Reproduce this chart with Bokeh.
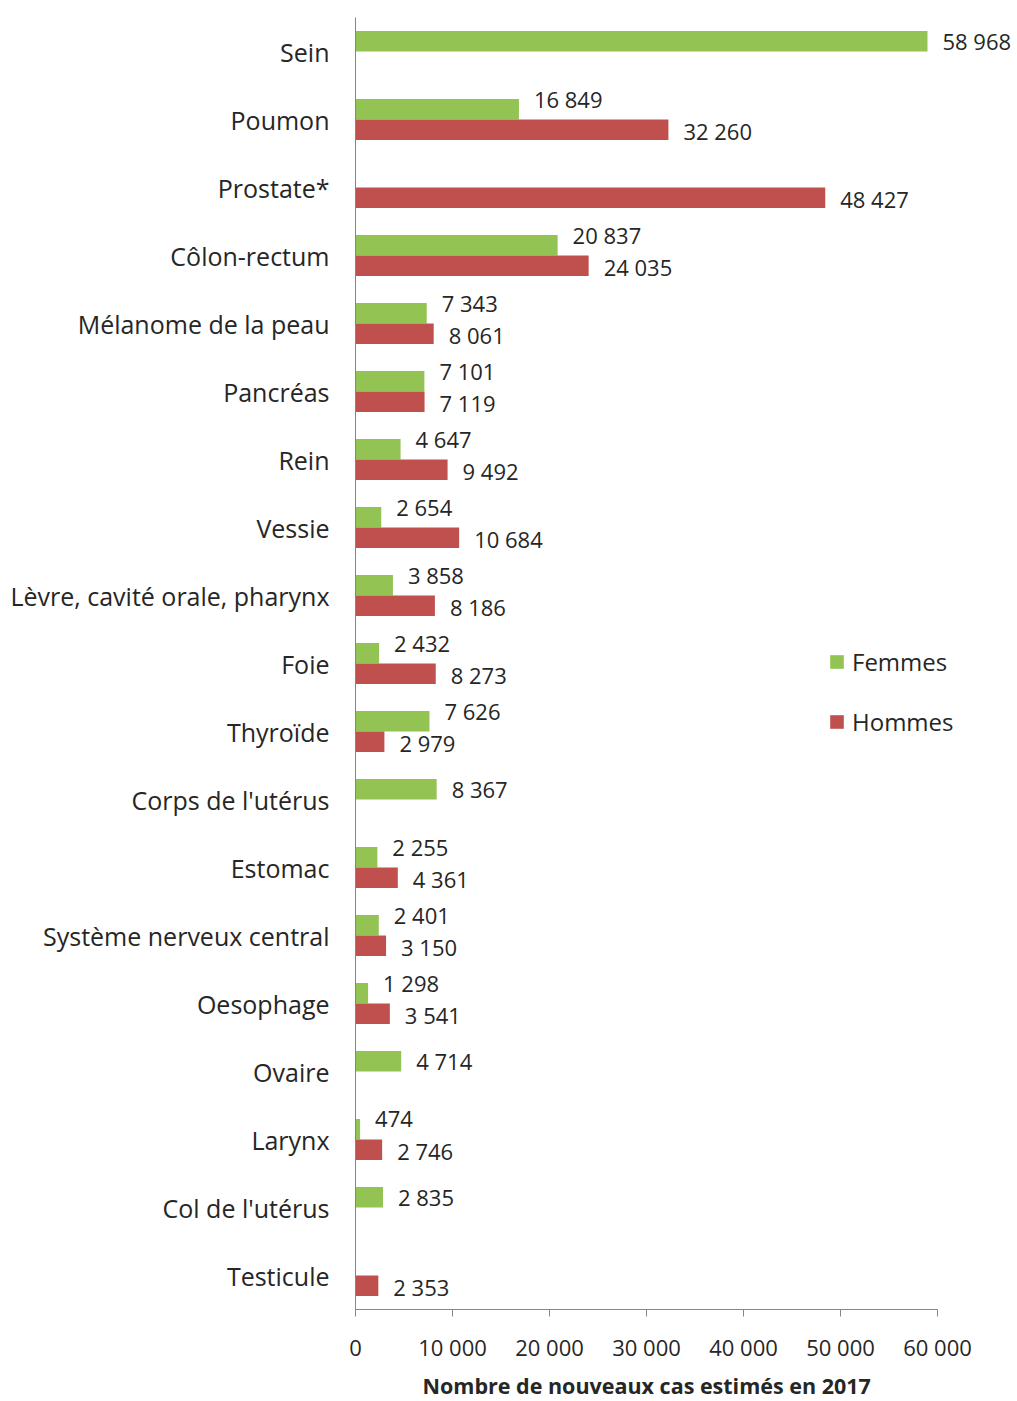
from bokeh.plotting import figure
from bokeh.models import (ColumnDataSource, Range1d, FixedTicker, LabelSet,
                          Legend, LegendItem, Title)
from bokeh.core.properties import value
from bokeh.embed import file_html
from bokeh.resources import INLINE

categories = ["Sein", "Poumon", "Prostate*", "Côlon-rectum", "Mélanome de la peau",
              "Pancréas", "Rein", "Vessie", "Lèvre, cavité orale, pharynx", "Foie",
              "Thyroïde", "Corps de l'utérus", "Estomac", "Système nerveux central",
              "Oesophage", "Ovaire", "Larynx", "Col de l'utérus", "Testicule"]
femmes = [58968, 16849, None, 20837, 7343, 7101, 4647, 2654, 3858, 2432,
          7626, 8367, 2255, 2401, 1298, 4714, 474, 2835, None]
hommes = [None, 32260, 48427, 24035, 8061, 7119, 9492, 10684, 8186, 8273,
          2979, None, 4361, 3150, 3541, None, 2746, None, 2353]
x_ticks = [0, 10000, 20000, 30000, 40000, 50000, 60000]
x_title = "Nombre de nouveaux cas estimés en 2017"

FONT = "Open Sans"
TXT = "#262626"
GREEN = "#92C353"
RED = "#C0504D"
AXIS_GREY = "#868686"


def fmt(v):
    return f"{v:,}".replace(",", " ")


n = len(categories)
bar_h = 0.3

fy, fx, fl, fyo = [], [], [], []
hy, hx, hl = [], [], []
for i, (f, h) in enumerate(zip(femmes, hommes)):
    if f is not None:
        fy.append(i - bar_h / 2)
        fx.append(f)
        fl.append(fmt(f))
        fyo.append(10 if h is not None else 0)
    if h is not None:
        hy.append(i + bar_h / 2)
        hx.append(h)
        hl.append(fmt(h))

src_f = ColumnDataSource(dict(y=fy, x=fx, label=fl, yo=fyo))
src_h = ColumnDataSource(dict(y=hy, x=hx, label=hl))

# axis spans 0..60000 over 582 px; frame extended to the right for labels/legend
axis_px = 582
frame_w = 660
x_max = x_ticks[-1]
x_end = x_max * frame_w / axis_px

p = figure(frame_width=frame_w, frame_height=1292,
           x_range=Range1d(0, x_end), y_range=Range1d(n - 0.5, -0.5),
           output_backend="svg", toolbar_location=None,
           min_border_left=355, min_border_top=17, min_border_right=0,
           min_border_bottom=0)
p.outline_line_color = None
p.xgrid.grid_line_color = None
p.ygrid.grid_line_color = None

rf = p.hbar(y="y", right="x", left=0, height=bar_h, source=src_f,
            fill_color=GREEN, line_color=None)
rh = p.hbar(y="y", right="x", left=0, height=bar_h, source=src_h,
            fill_color=RED, line_color=None)

lab_f = LabelSet(x="x", y="y", text="label", source=src_f, x_offset=15, y_offset="yo",
                 text_font=value(FONT), text_font_size=value("22px"), text_color=TXT,
                 text_baseline="middle")
lab_h = LabelSet(x="x", y="y", text="label", source=src_h, x_offset=15, y_offset=-1,
                 text_font=value(FONT), text_font_size=value("22px"), text_color=TXT,
                 text_baseline="middle")
p.add_layout(lab_f)
p.add_layout(lab_h)

# x axis
xa = p.xaxis[0]
xa.bounds = (0, x_max)
xa.ticker = FixedTicker(ticks=x_ticks)
xa.major_label_overrides = {t: fmt(t) for t in x_ticks}
xa.minor_tick_line_color = None
xa.major_tick_in = 0
xa.major_tick_out = 7
xa.axis_line_color = AXIS_GREY
xa.major_tick_line_color = AXIS_GREY
xa.major_label_text_font = FONT
xa.major_label_text_font_size = "22px"
xa.major_label_text_color = TXT
xa.major_label_standoff = 15

# axis title centred under the 0..60000 axis span
p.add_layout(Title(text=x_title, align="left", offset=67, standoff=8,
                   text_font=FONT, text_font_style="bold",
                   text_font_size="21.5px", text_color=TXT), "below")

# y axis
ya = p.yaxis[0]
ya.ticker = FixedTicker(ticks=list(range(n)))
ya.major_label_overrides = {i: c for i, c in enumerate(categories)}
ya.minor_tick_line_color = None
ya.major_tick_line_color = None
ya.axis_line_color = AXIS_GREY
ya.major_label_text_font = FONT
ya.major_label_text_font_size = "25px"
ya.major_label_text_color = TXT
ya.major_label_standoff = 20

legend = Legend(items=[LegendItem(label="Femmes", renderers=[rf]),
                       LegendItem(label="Hommes", renderers=[rh])],
                location=(473, 571), orientation="vertical",
                glyph_width=17, glyph_height=17, label_height=28,
                spacing=27, padding=0, margin=0, label_standoff=7,
                border_line_color=None, background_fill_alpha=0,
                label_text_font=FONT, label_text_font_size="24px",
                label_text_color=TXT)
p.add_layout(legend)

open("out.html", "w").write(file_html(p, INLINE))
